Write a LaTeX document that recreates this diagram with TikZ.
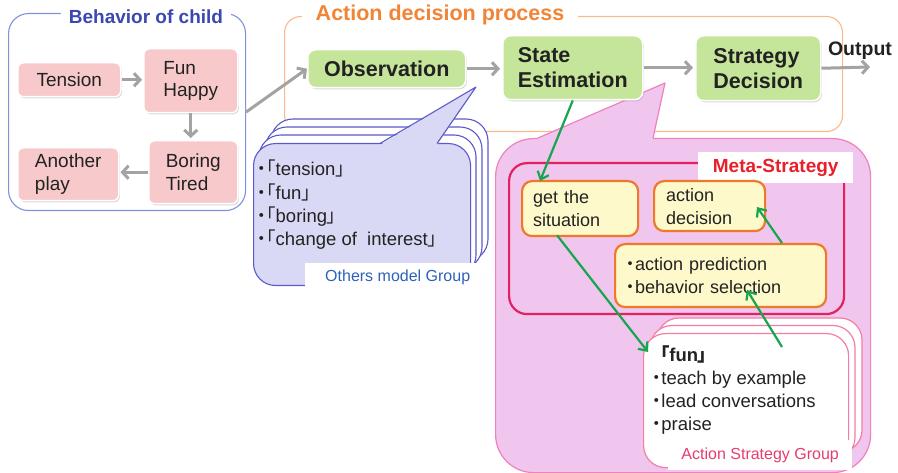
\documentclass[tikz,border=0pt]{standalone}
\usepackage{fontspec}
\setmainfont{Liberation Sans}
\newfontfamily\cjk[RawFeature=+palt]{Noto Sans CJK JP}
\usetikzlibrary{arrows.meta,shadows}

\newcommand\setfs[2]{\fontsize{#1}{#2}\selectfont}
\newcommand\kbl{{\cjk 「}}
\newcommand\kbr{{\cjk 」}}
\newcommand\kdot{{\cjk ・}}

\definecolor{childframe}{HTML}{7F93DC}
\definecolor{childtitle}{HTML}{3A48B0}
\definecolor{procframe}{HTML}{F9B98A}
\definecolor{proctitle}{HTML}{F28436}
\definecolor{childpink}{HTML}{F8C9CB}
\definecolor{greenfill}{HTML}{C5E69A}
\definecolor{arrowgray}{HTML}{A3A3A3}
\definecolor{otherfill}{HTML}{D9D9F5}
\definecolor{otherline}{HTML}{5A5ACB}
\definecolor{otherblue}{HTML}{2D62B8}
\definecolor{pinkfill}{HTML}{F0C6EE}
\definecolor{pinkline}{HTML}{EE82BE}
\definecolor{metared}{HTML}{E2215E}
\definecolor{metatext}{HTML}{E8202A}
\definecolor{yellowfill}{HTML}{FEF9CA}
\definecolor{yelloworange}{HTML}{F0782A}
\definecolor{greenarrowc}{HTML}{17A550}
\definecolor{asgline}{HTML}{F27FA2}
\definecolor{asgpink}{HTML}{E83C6E}
\definecolor{inktext}{HTML}{222222}

\tikzset{
  frame/.style={line width=1.1pt, rounded corners=#1, inner sep=0pt, anchor=north west},
  softshadow/.style={drop shadow={shadow xshift=1.2pt, shadow yshift=-1.6pt, opacity=0.3}},
  childbox/.style={fill=childpink, draw=white, line width=1.5pt, rounded corners=6pt,
    softshadow, font=\setfs{19}{22.5}, text=inktext, align=left, inner sep=0pt, anchor=north west},
  greenbox/.style={fill=greenfill, draw=white, line width=1.5pt, rounded corners=8pt,
    softshadow, font=\bfseries\setfs{21.5}{25}, text=inktext, align=left, inner sep=0pt, anchor=north west},
  yellowbox/.style={fill=yellowfill, draw=yelloworange, line width=2.2pt, rounded corners=10pt,
    font=\setfs{18}{23}, text=inktext, align=left, inner ysep=0pt, anchor=north west},
  grayarrow/.style={draw=arrowgray, line width=3pt, -{Straight Barb[length=6pt,width=13pt]}},
  greenarrow/.style={draw=greenarrowc, line width=2.2pt, -{Straight Barb[length=7pt,width=12pt]}},
  othersline/.style={draw=otherline, line width=1.1pt},
  pinkedge/.style={draw=pinkline, line width=1.2pt},
  asgedge/.style={draw=asgline, line width=1.2pt},
}

\begin{document}
\begin{tikzpicture}[x=1pt,y=-1pt]
\fill[white] (0,0) rectangle (898,473);
\useasboundingbox (0,0) rectangle (898,473);

% frame around the child's behaviour
\node[frame=20pt, draw=childframe, minimum width=237pt, minimum height=197pt] (child) at (8,13) {};
\node[fill=white, text=childtitle, font=\bfseries\setfs{19}{22}, inner xsep=8pt, inner ysep=2pt] (childhead) at (146,17) {Behavior of child};

% frame around the decision process
\node[frame=16pt, draw=procframe, minimum width=558pt, minimum height=115pt] (proc) at (284,16) {};
\node[fill=white, text=proctitle, font=\bfseries\setfs{21.5}{24}, inner xsep=14pt, inner ysep=2pt] (prochead) at (440,15) {Action decision process};

% states of the child
\node[childbox, align=center, minimum width=103pt, minimum height=34pt] (tension) at (17,62) {Tension};
\node[childbox, minimum width=94pt, minimum height=64pt] (fun) at (143,48) {Fun\\Happy};
\node[childbox, minimum width=89pt, minimum height=63pt] (boring) at (148,140) {Boring\\Tired};
\node[childbox, minimum width=101pt, minimum height=53pt] (another) at (17,147) {Another\\play};

\draw[grayarrow, shorten >=1pt] (tension.east) -- (fun.west |- tension.east);
\draw[grayarrow, shorten >=2pt] (fun.south) -- (fun.south |- boring.north);
\draw[grayarrow, shorten >=1pt] (boring.west) -- (another.east |- boring.west);

% model group callout (stacked sheets)
\foreach \i in {3,2,1}
  \draw[othersline, fill=white, rounded corners=22pt, shift={(6*\i,-8*\i)}] (253,143) rectangle (470,285);
\node[othersline, fill=otherfill, rounded corners=22pt, minimum width=217pt, minimum height=142pt, inner sep=0pt, anchor=north west] (others) at (253,143) {};
\fill[otherfill] (380,145) -- (476,87) -- (437,145) -- cycle;
\draw[othersline, line join=round] (380,143.5) -- (476,87) -- (437,143.5);
\node[anchor=west, align=left, inner sep=0pt, text=inktext, font=\setfs{18.5}{23.3}] (othertext) at (257,205)
  {\kdot\kbl tension\kbr\\\kdot\kbl fun\kbr\\\kdot\kbl boring\kbr\\\kdot\kbl change of\ \ interest\kbr};
\node[fill=white, text=otherblue, font=\setfs{16}{18}, minimum width=185pt, minimum height=29pt, inner sep=0pt, anchor=north west] (othersgroup) at (305,263) {Others model Group};

% strategy callout
\node[pinkedge, fill=pinkfill, rounded corners=38pt, minimum width=375pt, minimum height=334pt, inner sep=0pt, anchor=north west] (strategy) at (495,138) {};
\fill[pinkfill] (538,141) -- (538,138) -- (665,83) -- (653,138) -- (653,141) -- cycle;
\draw[pinkedge, line join=round] (538,138) -- (665,83) -- (653,138);

% meta-strategy block
\node[draw=metared, line width=2.2pt, rounded corners=18pt, minimum width=335pt, minimum height=151pt, inner sep=0pt, anchor=north west] (meta) at (508,162) {};
\node[fill=white, text=metatext, font=\bfseries\setfs{19}{22}, minimum width=155pt, minimum height=31pt, inner sep=0pt, anchor=north west] (metahead) at (698,152) {Meta-Strategy};

\node[yellowbox, inner xsep=11pt, text width=94pt, minimum height=55pt] (get) at (521,180) {get the\\situation};
\node[yellowbox, inner xsep=12pt, text width=87pt, minimum height=50pt] (decide) at (653,180) {action\\decision};
\node[yellowbox, inner xsep=11pt, text width=189pt, minimum height=63pt] (predict) at (614,243) {\kdot action prediction\\\kdot behavior selection};

% action strategy group (stacked sheets)
\foreach \i in {2,1}
  \draw[asgedge, fill=white, rounded corners=22pt, shift={(7*\i,-7.5*\i)}] (643,333) rectangle (848,467);
\node[asgedge, fill=white, rounded corners=22pt, minimum width=205pt, minimum height=134pt, inner sep=0pt, anchor=north west] (asg) at (643,333) {};
\node[anchor=west, align=left, inner sep=0pt, text=inktext, font=\setfs{18.5}{23.3}] (asgtext) at (652,390)
  {\hspace*{8pt}{\bfseries\kbl fun\kbr}\\\kdot teach by example\\\kdot lead conversations\\\kdot praise};
\node[fill=white, text=asgpink, font=\setfs{16}{18}, minimum width=184pt, minimum height=30pt, inner sep=0pt, anchor=north west] (asggroup) at (668,440) {Action Strategy Group};

% decision process
\node[greenbox, align=center, minimum width=158pt, minimum height=38pt] (obs) at (307,49) {Observation};
\node[greenbox, minimum width=140pt, minimum height=64pt] (se) at (502,35) {State\\Estimation};
\node[greenbox, minimum width=125pt, minimum height=65pt] (sd) at (695,35) {Strategy\\Decision};
\coordinate (out) at (870,67);
\node[font=\bfseries\setfs{19.5}{22}, text=inktext, inner sep=0pt] (outlabel) at (860,51) {Output};

\draw[grayarrow] (child.east) -- (obs.west);
\draw[grayarrow, shorten >=2pt] (obs.east) -- (se.west |- obs.east);
\draw[grayarrow, shorten >=2pt] (se.east) -- (sd.west |- se.east);
\draw[grayarrow] (sd.east) -- (out);

% information flow inside the strategy part
\draw[greenarrow] (se.south) -- ([shift={(19,1)}]get.north west);
\draw[greenarrow] ([shift={(36,-2)}]get.south west) -- ([shift={(5,19)}]asg.north west);
\draw[greenarrow] ([shift={(139,14)}]asg.north west) -- ([shift={(133,47)}]predict.north west);
\draw[greenarrow] ([shift={(168,0)}]predict.north west) -- ([shift={(104,27)}]decide.north west);
\end{tikzpicture}
\end{document}
